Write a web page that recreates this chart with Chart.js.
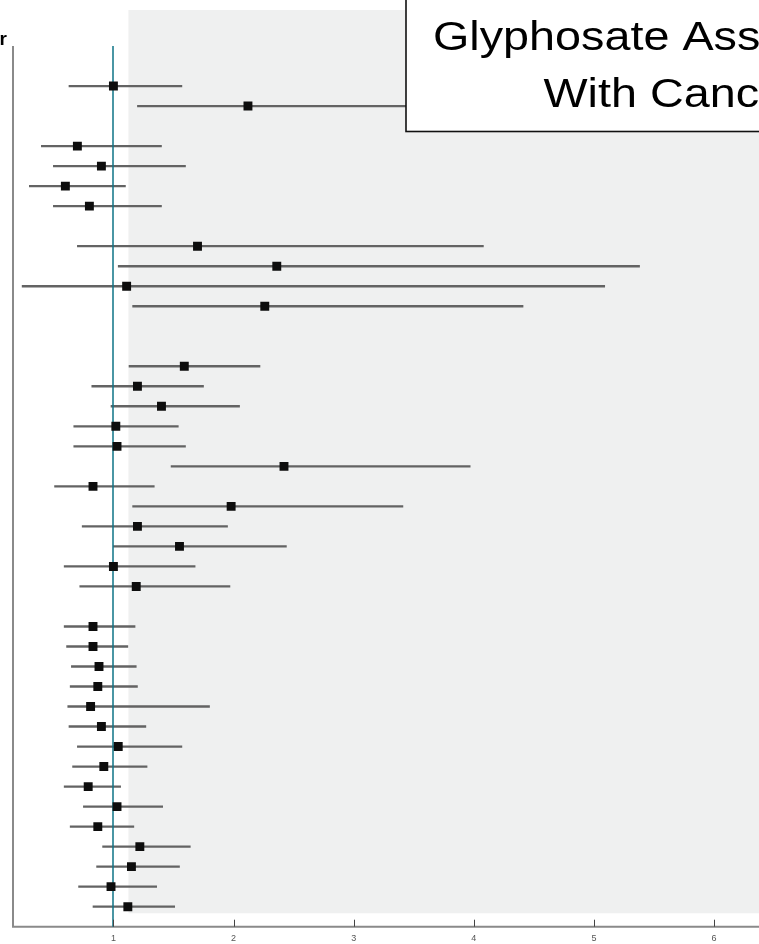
<!DOCTYPE html>
<html>
<head>
<meta charset="utf-8">
<script src="https://cdn.jsdelivr.net/npm/chart.js@4/dist/chart.umd.min.js"></script>
<style>
  html, body { margin: 0; padding: 0; background: #ffffff; }
  canvas { display: block; }
</style>
</head>
<body>
<canvas id="forestChart" width="759" height="944"></canvas>
<script>
// one entry per row, top to bottom; null = blank spacer row
const estimates = [
  1.00, 2.12, null, 0.70, 0.90, 0.60, 0.80, null,
  1.70, 2.36, 1.11, 2.26, null, null,
  1.59, 1.20, 1.40, 1.02, 1.03, 2.42, 0.83, 1.98, 1.20, 1.55, 1.00, 1.19, null,
  0.83, 0.83, 0.88, 0.87, 0.81, 0.90, 1.04, 0.92, 0.79, 1.03, 0.87, 1.22, 1.15, 0.98, 1.12
];
const lowerCI = [
  0.63, 1.20, null, 0.40, 0.50, 0.30, 0.50, null,
  0.70, 1.04, 0.24, 1.16, null, null,
  1.13, 0.82, 0.98, 0.67, 0.67, 1.48, 0.51, 1.16, 0.74, 1.00, 0.59, 0.72, null,
  0.59, 0.61, 0.65, 0.64, 0.62, 0.63, 0.70, 0.66, 0.59, 0.75, 0.64, 0.91, 0.86, 0.71, 0.83
];
const upperCI = [
  1.57, 3.74, null, 1.40, 1.60, 1.10, 1.40, null,
  4.08, 5.38, 5.09, 4.41, null, null,
  2.22, 1.75, 2.05, 1.54, 1.60, 3.97, 1.34, 3.41, 1.95, 2.44, 1.68, 1.97, null,
  1.18, 1.12, 1.19, 1.20, 1.80, 1.27, 1.57, 1.28, 1.06, 1.41, 1.17, 1.64, 1.55, 1.36, 1.51
];
const xTicks = [1, 2, 3, 4, 5, 6];
const nullValue = 1;
const shadeFrom = 1.125;
const titleLines = ['Glyphosate Associated', 'With Cancer'];

const ciData = [];
const pointData = [];
estimates.forEach((v, i) => {
  if (v === null) return;
  ciData.push({ x: [lowerCI[i], upperCI[i]], y: i });
  pointData.push({ x: v, y: i });
});

const forestDecor = {
  id: 'forestDecor',
  beforeDatasetsDraw(chart) {
    const { ctx, chartArea, scales } = chart;
    const x = scales.x, y = scales.y;
    // shaded band right of the reference line
    ctx.save();
    ctx.fillStyle = '#eff0f0';
    const sx = x.getPixelForValue(shadeFrom);
    const sBottom = y.getPixelForValue(41.33);
    ctx.fillRect(sx, chartArea.top, chart.width - sx, sBottom - chartArea.top);
    ctx.restore();
  },
  afterDatasetDraw(chart, args) {
    if (args.index !== 1) return;
    const { ctx, chartArea, scales } = chart;
    const x = scales.x, y = scales.y;
    const top = y.getPixelForValue(-2);
    ctx.save();
    // axes
    ctx.strokeStyle = '#8a8a8a';
    ctx.lineWidth = 2;
    ctx.beginPath();
    ctx.moveTo(chartArea.left, top);
    ctx.lineTo(chartArea.left, chartArea.bottom);
    ctx.lineTo(chart.width, chartArea.bottom);
    ctx.stroke();
    // reference line at 1
    const rx = Math.round(x.getPixelForValue(nullValue));
    ctx.strokeStyle = '#0e7386';
    ctx.lineWidth = 1.5;
    ctx.beginPath();
    ctx.moveTo(rx, top);
    ctx.lineTo(rx, chartArea.bottom);
    ctx.stroke();
    // inward tick marks
    ctx.strokeStyle = '#444';
    ctx.lineWidth = 1;
    xTicks.forEach(t => {
      const tx = Math.round(x.getPixelForValue(t)) + 0.5;
      ctx.beginPath();
      ctx.moveTo(tx, chartArea.bottom - 7);
      ctx.lineTo(tx, chartArea.bottom);
      ctx.stroke();
    });
    ctx.restore();
  },
  afterDraw(chart) {
    const { ctx } = chart;
    ctx.save();
    // title box
    ctx.fillStyle = '#ffffff';
    ctx.fillRect(406, -2, 400, 133.5);
    ctx.strokeStyle = '#111';
    ctx.lineWidth = 1.6;
    ctx.strokeRect(406, -2, 400, 133.5);
    ctx.fillStyle = '#000';
    ctx.font = '41px "Liberation Sans", Arial, sans-serif';
    ctx.textAlign = 'center';
    ctx.textBaseline = 'alphabetic';
    const cx = 672, stretch = 1.14;
    [49.5, 107].forEach((base, k) => {
      ctx.save();
      ctx.translate(cx, base);
      ctx.scale(stretch, 1);
      ctx.fillText(titleLines[k], 0, 0);
      ctx.restore();
    });
    // clipped row-label header at far left
    ctx.font = 'bold 19px "Liberation Sans", Arial, sans-serif';
    ctx.textAlign = 'right';
    ctx.fillText('Odds Ratio for Cancer', 7, 45);
    ctx.restore();
  }
};

new Chart(document.getElementById('forestChart').getContext('2d'), {
  type: 'bar',
  data: {
    datasets: [
      {
        type: 'scatter',
        label: 'Estimate',
        data: pointData,
        pointStyle: 'rect',
        pointRadius: 6.3,
        pointBackgroundColor: '#0d0d0d',
        pointBorderWidth: 0,
        order: 0
      },
      {
        type: 'bar',
        label: '95% CI',
        indexAxis: 'y',
        data: ciData,
        backgroundColor: '#636363',
        barThickness: 1.7,
        borderSkipped: false,
        order: 1
      }
    ]
  },
  options: {
    responsive: false,
    devicePixelRatio: 1,
    animation: false,
    events: [],
    layout: { padding: { left: 13, right: 0, top: 10, bottom: 0 } },
    plugins: {
      legend: { display: false },
      tooltip: { enabled: false }
    },
    scales: {
      x: {
        type: 'linear',
        offset: false,
        min: 0.164,
        max: 6.322,
        afterBuildTicks: axis => { axis.ticks = xTicks.map(v => ({ value: v })); },
        afterFit: axis => { axis.height = 17.3; },
        grid: { display: false, drawTicks: false, offset: false },
        border: { display: false },
        ticks: {
          color: '#555',
          font: { size: 9, family: '"Liberation Sans", Arial, sans-serif' },
          padding: 6,
          maxRotation: 0
        }
      },
      y: {
        type: 'linear',
        offset: false,
        reverse: true,
        min: -3.8,
        max: 42,
        display: false,
        grid: { offset: false }
      }
    }
  },
  plugins: [forestDecor]
});
</script>
</body>
</html>
